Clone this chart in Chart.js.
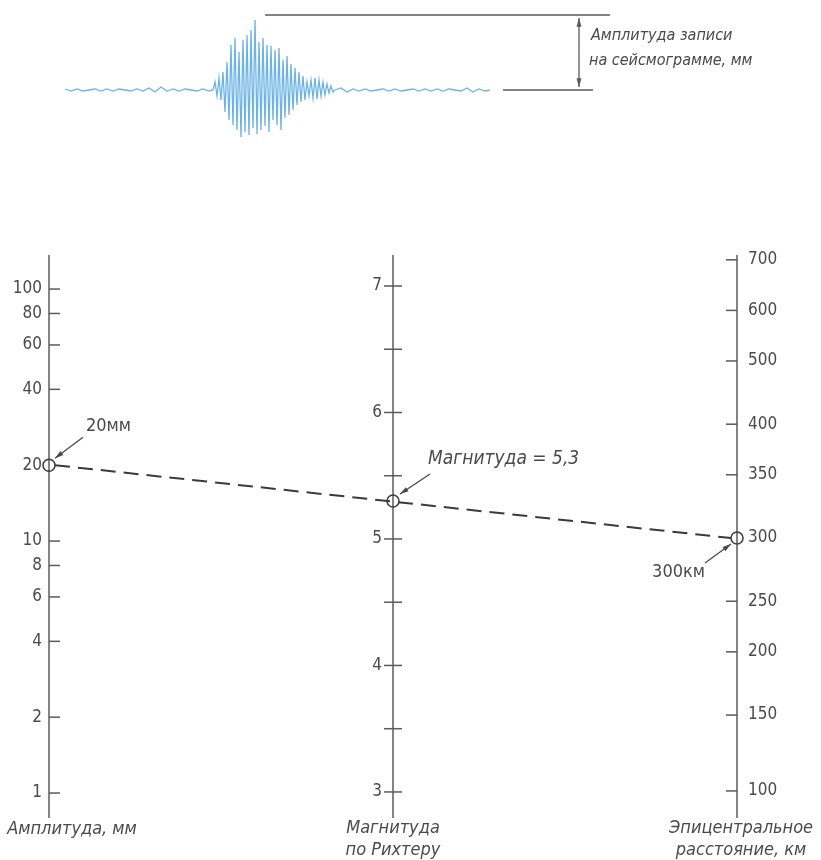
<!DOCTYPE html>
<html lang="ru">
<head>
<meta charset="utf-8">
<script src="https://cdn.jsdelivr.net/npm/chart.js@4.4.1/dist/chart.umd.min.js"></script>
<style>
  body { margin: 0; background: #fff; }
  #wrap { position: relative; width: 821px; height: 860px; }
  canvas { position: absolute; left: 0; top: 0; }
</style>
</head>
<body>
<div id="wrap">
  <canvas id="nomo" width="821" height="860"></canvas>
  <canvas id="seis" width="821" height="150"></canvas>
</div>
<script>
// amplitude scale, mm (log)
const ampTicks = [1, 2, 4, 6, 8, 10, 20, 40, 60, 80, 100];
// magnitude scale
const magTicks = [3, 3.5, 4, 4.5, 5, 5.5, 6, 6.5, 7];
const magLabels = [3, 4, 5, 6, 7];
// epicentral distance, km, and where each sits on the correction scale
const distTicks = [100, 150, 200, 250, 300, 350, 400, 500, 600, 700];
const distCorr = [3.0, 3.3, 3.55, 3.75, 4.0, 4.25, 4.45, 4.7, 4.9, 5.1];
// the worked example
const exAmp = 20;
const exMag = 5.3;
const exDist = 300;

// seismogram trace (time, amplitude)
const seisT = [65, 71, 77, 83, 89, 95, 101, 107, 113, 119, 125, 131, 137, 143, 149, 155, 161, 167, 173, 179, 185, 191, 197, 203, 209,
  213, 215, 217, 219, 221, 223, 225, 227, 229, 231, 233, 235, 237, 239, 241, 243, 245, 247, 249, 251, 253, 255, 257, 259, 261, 263,
  265, 267, 269, 271, 273, 275, 277, 279, 281, 283, 285, 287, 289, 291, 293, 295, 297, 299, 301, 303, 305, 307, 309, 311, 313, 315,
  317, 319, 321, 323, 325, 327, 329, 331, 333, 335,
  341, 347, 353, 359, 365, 371, 377, 383, 389, 395, 401, 407, 413, 419, 425, 431, 437, 443, 449, 455, 461, 467, 473, 479, 485, 490];
const seisA = [1, -1, 1, -1, 0, 1, -1, 1, -1, 1, 0, -1, 1, -1, 2, -2, 3, -1, 1, -1, 1, 0, -1, 1, -1,
  0, 8, -6, 12, -10, 18, -22, 28, -30, 45, -35, 52, -40, 38, -47, 50, -42, 55, -45, 60, -38, 70, -44, 48, -40, 52,
  -36, 45, -42, 44, -30, 40, -35, 42, -40, 30, -28, 34, -25, 26, -20, 22, -15, 18, -12, 14, -10, 8, -6, 10, -8, 12,
  -9, 10, -6, 8, -5, 6, -3, 4, -2, 0,
  2, -2, 1, -1, 1, -1, 0, 1, -1, 1, -1, 0, 1, -1, 1, -1, 1, -1, 1, 0, -1, 2, -2, 1, -1, 0];
const seisPeak = 75;

const textCol = '#4a4a4a';
const lineCol = '#5a5a5a';
const numFont = '17px "Liberation Sans Narrow", "DejaVu Sans Condensed", sans-serif';
const labFont = 'italic 18px "DejaVu Sans Condensed", "Liberation Sans Narrow", sans-serif';
const smallFont = 'italic 16px "DejaVu Sans Condensed", "Liberation Sans Narrow", sans-serif';

function line(ctx, x1, y1, x2, y2) {
  ctx.beginPath();
  ctx.moveTo(x1, y1);
  ctx.lineTo(x2, y2);
  ctx.stroke();
}

function arrow(ctx, x1, y1, x2, y2, head) {
  line(ctx, x1, y1, x2, y2);
  const a = Math.atan2(y2 - y1, x2 - x1);
  ctx.beginPath();
  ctx.moveTo(x2, y2);
  ctx.lineTo(x2 - head * Math.cos(a - 0.28), y2 - head * Math.sin(a - 0.28));
  ctx.lineTo(x2 - head * Math.cos(a + 0.28), y2 - head * Math.sin(a + 0.28));
  ctx.closePath();
  ctx.fill();
}

// axes, ticks and the dashed reading line
const nomoAxes = {
  id: 'nomoAxes',
  beforeDatasetsDraw(chart) {
    const {ctx, chartArea, scales} = chart;
    const xl = scales.x.getPixelForValue(0);
    const xm = scales.x.getPixelForValue(0.5);
    const xr = scales.x.getPixelForValue(1);
    ctx.save();
    ctx.strokeStyle = lineCol;
    ctx.fillStyle = textCol;
    ctx.lineWidth = 1.5;
    [xl, xm, xr].forEach(x => line(ctx, x, chartArea.top, x, chartArea.bottom));

    ctx.font = numFont;
    ctx.textBaseline = 'middle';

    ctx.textAlign = 'right';
    ampTicks.forEach(v => {
      const y = scales.amp.getPixelForValue(v);
      if (v !== exAmp) line(ctx, xl, y, xl + 11, y);
      ctx.fillText(String(v), xl - 7, y);
    });

    magTicks.forEach(v => {
      const y = scales.mag.getPixelForValue(v);
      line(ctx, xm - 9, y, xm + 9, y);
      if (magLabels.includes(v)) ctx.fillText(String(v), xm - 11, y);
    });

    ctx.textAlign = 'left';
    distTicks.forEach((v, i) => {
      const y = scales.dist.getPixelForValue(distCorr[i]);
      if (v !== exDist) line(ctx, xr - 11, y, xr, y);
      ctx.fillText(String(v), xr + 11, y);
    });

    const p0 = chart.getDatasetMeta(0).data[0];
    const p2 = chart.getDatasetMeta(2).data[0];
    ctx.strokeStyle = '#3a3a3a';
    ctx.lineWidth = 2;
    ctx.setLineDash([15, 8]);
    line(ctx, p0.x + 6, p0.y, p2.x - 6, p2.y);
    ctx.restore();
  },
  afterDatasetsDraw(chart) {
    const {ctx, scales} = chart;
    const xl = scales.x.getPixelForValue(0);
    const xm = scales.x.getPixelForValue(0.5);
    const xr = scales.x.getPixelForValue(1);
    const p0 = chart.getDatasetMeta(0).data[0];
    const p1 = chart.getDatasetMeta(1).data[0];
    const p2 = chart.getDatasetMeta(2).data[0];
    ctx.save();
    ctx.fillStyle = textCol;
    ctx.strokeStyle = textCol;
    ctx.lineWidth = 1.3;
    ctx.textBaseline = 'middle';

    // callouts
    ctx.font = numFont.replace('17px', '18px');
    ctx.textAlign = 'left';
    ctx.fillText(exAmp + 'мм', p0.x + 37, p0.y - 39);
    arrow(ctx, p0.x + 34, p0.y - 28, p0.x + 6, p0.y - 7, 9);

    ctx.font = labFont.replace('18px', '19px');
    ctx.fillText('Магнитуда = ' + String(exMag).replace('.', ','), p1.x + 35, p1.y - 42);
    arrow(ctx, p1.x + 37, p1.y - 27, p1.x + 7, p1.y - 7, 9);

    ctx.font = numFont.replace('17px', '18px');
    ctx.textAlign = 'right';
    ctx.fillText(exDist + 'км', p2.x - 32, p2.y + 34);
    arrow(ctx, p2.x - 32, p2.y + 25, p2.x - 6, p2.y + 6, 9);

    // axis titles
    ctx.font = labFont;
    ctx.textAlign = 'center';
    ctx.fillText('Амплитуда, мм', xl + 23, 829);
    ctx.fillText('Магнитуда', xm, 828);
    ctx.fillText('по Рихтеру', xm, 850);
    ctx.fillText('Эпицентральное', xr + 4, 828);
    ctx.fillText('расстояние, км', xr + 4, 850);
    ctx.restore();
  }
};

const marker = {
  pointStyle: 'circle',
  pointRadius: 6,
  borderWidth: 1.5,
  borderColor: '#3a3a3a',
  backgroundColor: 'rgba(255,255,255,0)',
  clip: false
};

new Chart(document.getElementById('nomo'), {
  type: 'scatter',
  data: {
    datasets: [
      {...marker, data: [{x: 0, y: exAmp}], yAxisID: 'amp'},
      {...marker, data: [{x: 0.5, y: exMag}], yAxisID: 'mag'},
      {...marker, data: [{x: 1, y: distCorr[distTicks.indexOf(exDist)]}], yAxisID: 'dist'}
    ]
  },
  options: {
    responsive: false,
    animation: false,
    events: [],
    devicePixelRatio: 1,
    layout: { padding: { left: 49, right: 84, top: 255, bottom: 42 } },
    plugins: {
      legend: { display: false },
      tooltip: { enabled: false }
    },
    scales: {
      x: { type: 'linear', min: 0, max: 1, display: false },
      amp: { type: 'logarithmic', min: 0.796, max: 136.5, display: false, position: 'left' },
      mag: { type: 'linear', min: 2.794, max: 7.245, bounds: 'data', display: false, position: 'left' },
      dist: { type: 'linear', min: 2.893, max: 5.119, bounds: 'data', display: false, position: 'right' }
    }
  },
  plugins: [nomoAxes]
});

// seismogram with its amplitude marking
const seisMarks = {
  id: 'seisMarks',
  afterDatasetsDraw(chart) {
    const {ctx, scales} = chart;
    const yTop = scales.y.getPixelForValue(seisPeak);
    const yBase = scales.y.getPixelForValue(0);
    const xA = scales.x.getPixelForValue(579);
    ctx.save();
    ctx.strokeStyle = lineCol;
    ctx.fillStyle = lineCol;
    ctx.lineWidth = 1.3;
    line(ctx, scales.x.getPixelForValue(265), yTop, scales.x.getPixelForValue(610), yTop);
    line(ctx, scales.x.getPixelForValue(503), yBase, scales.x.getPixelForValue(593), yBase);
    const ym = (yTop + yBase) / 2;
    arrow(ctx, xA, ym, xA, yTop + 3, 9);
    arrow(ctx, xA, ym, xA, yBase - 3, 9);
    ctx.fillStyle = textCol;
    ctx.font = smallFont;
    ctx.textAlign = 'left';
    ctx.textBaseline = 'middle';
    ctx.fillText('Амплитуда записи', xA + 12, 36);
    ctx.fillText('на сейсмограмме, мм', xA + 10, 61);
    ctx.restore();
  }
};

new Chart(document.getElementById('seis'), {
  type: 'scatter',
  data: {
    datasets: [{
      data: seisT.map((t, i) => ({x: t, y: seisA[i]})),
      showLine: true,
      pointRadius: 0,
      borderColor: '#6db3e3',
      borderWidth: 1.3,
      tension: 0
    }]
  },
  options: {
    responsive: false,
    animation: false,
    events: [],
    devicePixelRatio: 1,
    layout: { padding: 0 },
    plugins: {
      legend: { display: false },
      tooltip: { enabled: false }
    },
    scales: {
      x: { type: 'linear', min: 0, max: 821, display: false },
      y: { type: 'linear', min: -60, max: 90, bounds: 'data', display: false }
    }
  },
  plugins: [seisMarks]
});
</script>
</body>
</html>
